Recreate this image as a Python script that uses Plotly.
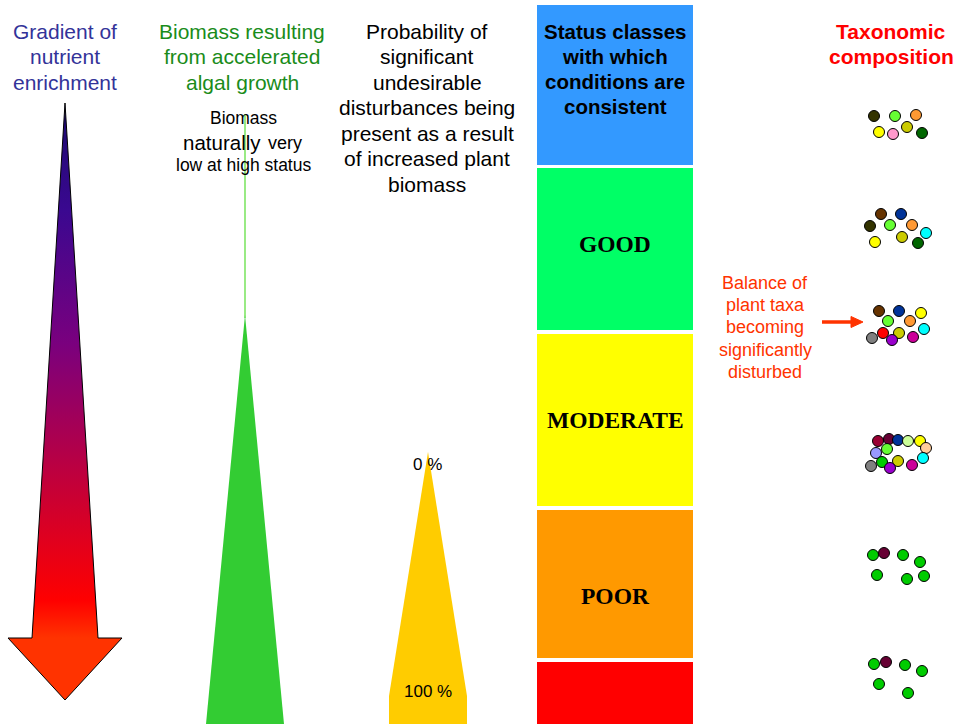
import plotly.graph_objects as go

# ---------------- data ----------------
status_labels = ["", "GOOD", "MODERATE", "POOR", ""]
status_colors = ["#3399ff", "#00ff66", "#ffff00", "#ff9900", "#ff0000"]
status_top = [5, 168, 334, 510, 662]
status_bottom = [165, 330, 506, 658, 724]
status_label_y = [None, 244, 420, 596, None]

header_gradient = ["Gradient of", "nutrient", "enrichment"]
header_biomass = ["Biomass resulting", "from accelerated", "algal growth"]
header_prob = ["Probability of", "significant", "undesirable", "disturbances being",
               "present as a result", "of increased plant", "biomass"]
header_status = ["Status classes", "with which", "conditions are", "consistent"]
header_taxa = ["Taxonomic", "composition"]
balance_text = ["Balance of", "plant taxa", "becoming", "significantly", "disturbed"]

# nutrient-enrichment arrow outline
arrow_x = [65, 98, 122, 65, 8, 32, 65]
arrow_y = [103, 638, 638, 700, 638, 638, 103]
# biomass wedge
biomass_x = [245, 284, 206, 245]
biomass_y = [315, 724, 724, 315]
# probability wedge
prob_x = [428, 467, 467, 389, 389, 428]
prob_y = [452, 696, 724, 724, 696, 452]

# taxa dots per status class
taxa1_x = [874, 895, 916, 879, 893, 907, 922]
taxa1_y = [116, 116, 115, 132, 134, 127, 133]
taxa1_c = ["#333300", "#66ff33", "#ff9933", "#ffff00", "#ff99cc", "#cccc00", "#006600"]

taxa2_x = [881, 901, 870, 890, 912, 926, 875, 902, 918]
taxa2_y = [214, 214, 226, 225, 225, 233, 242, 237, 243]
taxa2_c = ["#663300", "#003399", "#333300", "#66ff33", "#ff9933", "#00ffff",
           "#ffff00", "#cccc00", "#006600"]

taxa3_x = [879, 899, 921, 888, 910, 924, 872, 883, 899, 892, 913]
taxa3_y = [311, 311, 313, 321, 321, 329, 338, 333, 333, 340, 337]
taxa3_c = ["#663300", "#003399", "#ffff00", "#66ff33", "#ff9933", "#00ffff",
           "#808080", "#ff0000", "#cccc00", "#9900cc", "#cc0099"]

taxa4_x = [878, 889, 898, 908, 920, 926, 876, 887, 923, 882, 898, 871, 890, 912]
taxa4_y = [441, 439, 440, 441, 441, 448, 453, 449, 458, 462, 461, 466, 468, 465]
taxa4_c = ["#990033", "#660033", "#003399", "#ccff99", "#ffff00", "#ffcc99",
           "#9999ff", "#66ff33", "#00ffff", "#00cc00", "#cccc00", "#808080",
           "#9900cc", "#cc0099"]

taxa5_x = [873, 884, 903, 920, 877, 907, 924]
taxa5_y = [555, 553, 555, 562, 575, 579, 576]
taxa5_c = ["#00cc00", "#660033", "#00cc00", "#00cc00", "#00cc00", "#00cc00", "#00cc00"]

taxa6_x = [874, 886, 905, 922, 879, 908]
taxa6_y = [664, 662, 665, 671, 684, 693]
taxa6_c = ["#00cc00", "#660033", "#00cc00", "#00cc00", "#00cc00", "#00cc00"]

SANS = "Liberation Sans, Arial, sans-serif"
SERIF = "Liberation Serif, Times New Roman, serif"

fig = go.Figure()

# status boxes
for top, bot, col, lab, ly in zip(status_top, status_bottom, status_colors,
                                   status_labels, status_label_y):
    fig.add_shape(type="rect", xref="x", yref="y", x0=537, x1=693, y0=top, y1=bot,
                  fillcolor=col, line_width=0, layer="below")
    if lab:
        fig.add_annotation(x=615, y=ly, text="<b>%s</b>" % lab, showarrow=False,
                           font=dict(family=SERIF, size=23.5, color="black"))

# thin biomass line
fig.add_shape(type="line", xref="x", yref="y", x0=245, x1=245, y0=114, y1=318,
              line=dict(color="#55dd33", width=1.2), layer="below")

# gradient arrow
fig.add_trace(go.Scatter(
    x=arrow_x, y=arrow_y, mode="lines", fill="toself",
    line=dict(color="black", width=1),
    fillgradient=dict(type="vertical", start=103, stop=638,
                      colorscale=[[0, "#1a0a6e"], [0.2, "#3a0890"], [0.45, "#7a007e"],
                                  [0.7, "#c0003c"], [0.93, "#ff0000"], [1, "#ff3300"]]),
    hoverinfo="skip"))

# biomass wedge
fig.add_trace(go.Scatter(x=biomass_x, y=biomass_y, mode="lines", fill="toself",
                         fillcolor="#33cc33", line=dict(width=0, color="#33cc33"),
                         hoverinfo="skip"))
# probability wedge
fig.add_trace(go.Scatter(x=prob_x, y=prob_y, mode="lines", fill="toself",
                         fillcolor="#ffcc00", line=dict(width=0, color="#ffcc00"),
                         hoverinfo="skip"))

# taxa dots
for xs, ys, cs in [(taxa1_x, taxa1_y, taxa1_c), (taxa2_x, taxa2_y, taxa2_c),
                   (taxa3_x, taxa3_y, taxa3_c), (taxa4_x, taxa4_y, taxa4_c),
                   (taxa5_x, taxa5_y, taxa5_c), (taxa6_x, taxa6_y, taxa6_c)]:
    fig.add_trace(go.Scatter(x=xs, y=ys, mode="markers",
                             marker=dict(size=11, color=cs, line=dict(color="black", width=1)),
                             hoverinfo="skip"))

# small red arrow
fig.add_shape(type="line", xref="x", yref="y", x0=822, x1=853, y0=322, y1=322,
              line=dict(color="#ff3300", width=3.5))
fig.add_shape(type="path", xref="x", yref="y",
              path="M 851 316.5 L 863 322 L 851 327.5 Z",
              fillcolor="#ff3300", line=dict(color="#ff3300", width=1))


def add_lines(lines, x, y0, dy, size, color, bold=False):
    for i, t in enumerate(lines):
        fig.add_annotation(x=x, y=y0 + i * dy, text=("<b>%s</b>" % t) if bold else t,
                           showarrow=False, font=dict(family=SANS, size=size, color=color))


add_lines(header_gradient, 65, 31, 25.5, 21, "#333399")
add_lines(header_biomass, 242, 31, 25.5, 21, "#1a8c1a")
add_lines(header_prob, 427, 31, 25.5, 21, "black")
add_lines(header_status, 615, 31, 25.3, 20.5, "black", bold=True)
add_lines(header_taxa, 891, 31, 25.5, 21, "#ff0000", bold=True)
add_lines(balance_text, 765, 283, 22.2, 18, "#ff3300")

# biomass note
fig.add_annotation(x=243, y=118, text="Biomass", showarrow=False,
                   font=dict(family=SANS, size=17.5, color="black"))
fig.add_annotation(x=263, y=142, text="naturally", showarrow=False, xanchor="right",
                   font=dict(family=SANS, size=20.5, color="black"))
fig.add_annotation(x=266, y=143, text="very", showarrow=False, xanchor="left",
                   font=dict(family=SANS, size=18, color="black"))
fig.add_annotation(x=243, y=165, text="low at high status", showarrow=False,
                   font=dict(family=SANS, size=17.5, color="black"))

# probability labels
fig.add_annotation(x=427, y=464, text="0 %", showarrow=False,
                   font=dict(family=SANS, size=17, color="black"))
fig.add_annotation(x=428, y=691, text="100 %", showarrow=False,
                   font=dict(family=SANS, size=17, color="black"))

fig.update_layout(
    width=956, height=724, margin=dict(l=0, r=0, t=0, b=0, pad=0),
    paper_bgcolor="white", plot_bgcolor="white", showlegend=False, hovermode=False,
    xaxis=dict(range=[0, 956], visible=False, fixedrange=True),
    yaxis=dict(range=[724, 0], visible=False, fixedrange=True),
)

fig.write_html("out.html", config={"displayModeBar": False},
               post_script="document.body.style.margin='0';")
